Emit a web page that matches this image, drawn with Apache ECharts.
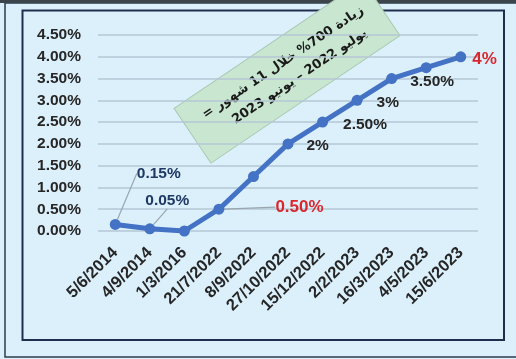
<!DOCTYPE html>
<html>
<head>
<meta charset="utf-8">
<script src="https://cdn.jsdelivr.net/npm/echarts@6/dist/echarts.min.js"></script>
<style>
  html, body { margin: 0; padding: 0; background: #dcf0fb; }
  #chart { width: 516px; height: 359px; }
</style>
</head>
<body>
<div id="chart"></div>
<script>
// ECB main refinancing rate decisions (%)
const dates = ['5/6/2014', '4/9/2014', '1/3/2016', '21/7/2022', '8/9/2022', '27/10/2022',
               '15/12/2022', '2/2/2023', '16/3/2023', '4/5/2023', '15/6/2023'];
const rates = [0.15, 0.05, 0, 0.5, 1.25, 2, 2.5, 3, 3.5, 3.75, 4];
// point annotations (null = no label)
const pointLabels = ['0.15%', '0.05%', null, '0.50%', null, '2%', '2.50%', '3%', '3.50%', null, '4%'];
const yTicks = [0, 0.5, 1, 1.5, 2, 2.5, 3, 3.5, 4, 4.5];
const noteLines = ['زيادة 700% خلال 11 شهور =\u200F', 'يوليو 2022 – يونيو 2023'];

const FONT = '"Liberation Sans", Arial, sans-serif';
const NAVY = '#1f3864';
const RED = '#d9272e';
const DARK = '#262626';

// label styling per point
const labelStyles = [
  { color: NAVY, fontSize: 15.5, dx: 11, dy: -51, line: true },
  { color: NAVY, fontSize: 15.5, dx: -15, dy: -28, line: true },
  null,
  { color: RED, fontSize: 17, dx: 46, dy: -2, line: true },
  null,
  { color: DARK, fontSize: 15.5, dx: 8, dy: 2 },
  { color: DARK, fontSize: 15.5, dx: 10, dy: 3 },
  { color: DARK, fontSize: 15.5, dx: 9, dy: 2 },
  { color: DARK, fontSize: 15.5, dx: 8, dy: 3 },
  null,
  { color: RED, fontSize: 17, dx: 1, dy: 3 }
];

const seriesData = rates.map((v, i) => {
  const s = labelStyles[i];
  const item = { value: v };
  if (s && pointLabels[i]) {
    item.label = {
      show: true,
      position: 'right',
      formatter: pointLabels[i],
      color: s.color,
      fontSize: s.fontSize,
      fontWeight: 'bold',
      fontFamily: FONT
    };
    item.labelLine = { show: !!s.line, lineStyle: { color: '#98a6ae', width: 1.2 } };
  } else {
    item.label = { show: false };
  }
  return item;
});

const chart = echarts.init(document.getElementById('chart'), null, { renderer: 'canvas' });

chart.setOption({
  backgroundColor: '#dcf0fb',
  animation: false,
  grid: { left: 98, right: 38, top: 35, bottom: 128 },
  xAxis: {
    type: 'category',
    data: dates,
    boundaryGap: true,
    axisLine: { show: false },
    axisTick: { show: false },
    axisLabel: {
      rotate: 45,
      margin: 19,
      interval: 0,
      color: DARK,
      fontSize: 16.5,
      fontWeight: 'bold',
      fontFamily: FONT
    }
  },
  yAxis: {
    type: 'value',
    min: yTicks[0],
    max: yTicks[yTicks.length - 1],
    interval: 0.5,
    axisLine: { show: false },
    axisTick: { show: false },
    splitLine: { lineStyle: { color: '#b5c7d4', width: 1.5 } },
    axisLabel: {
      margin: 17,
      color: DARK,
      fontSize: 15.5,
      fontWeight: 'bold',
      fontFamily: FONT,
      formatter: v => v.toFixed(2) + '%'
    }
  },
  series: [{
    type: 'line',
    data: seriesData,
    symbol: 'circle',
    symbolSize: 11,
    lineStyle: { color: '#4472c4', width: 5 },
    itemStyle: { color: '#4472c4' },
    labelLayout: params => {
      const s = labelStyles[params.dataIndex];
      return s ? { dx: s.dx, dy: s.dy } : {};
    },
    z: 3
  }],
  graphic: [
    // outer frame
    { type: 'rect', z: -10, shape: { x: 5, y: 3, width: 520, height: 354 },
      style: { fill: '#dcf0fb', stroke: '#2e3b4e', lineWidth: 1.5 } },
    { type: 'rect', z: -9, shape: { x: 0, y: 0, width: 516, height: 3 },
      style: { fill: '#3c444c' } },
    // plot frame
    { type: 'rect', z: -8, shape: { x: 22.5, y: 10.5, width: 481.5, height: 329.5 },
      style: { fill: 'none', stroke: '#1f2e4f', lineWidth: 2 } },
    // rotated note
    {
      type: 'group',
      x: 287, y: 72,
      rotation: 34 * Math.PI / 180,
      z: 10,
      children: [
        { type: 'rect', shape: { x: -114, y: -33, width: 228, height: 66 },
          style: { fill: '#c8e6d0', stroke: '#a9c9b2', lineWidth: 1 } },
        { type: 'text', x: 2, y: -10,
          style: { text: noteLines[0], fill: '#1a1a1a', font: 'bold 13px "DejaVu Sans"',
                   align: 'center', verticalAlign: 'middle' } },
        { type: 'text', x: 8, y: 11,
          style: { text: noteLines[1], fill: '#1a1a1a', font: 'bold 13px "DejaVu Sans"',
                   align: 'center', verticalAlign: 'middle' } }
      ]
    }
  ]
});
</script>
</body>
</html>
